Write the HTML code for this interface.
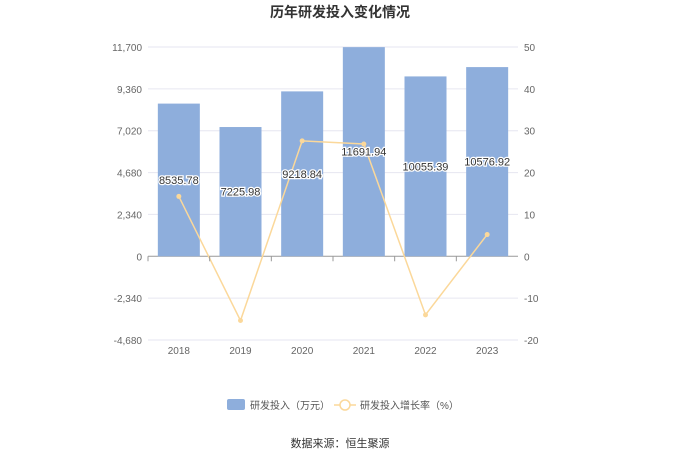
<!DOCTYPE html>
<html><head><meta charset="utf-8">
<style>
body{margin:0;background:#fff;font-family:"Liberation Sans","Noto Sans CJK SC",sans-serif;}
svg text{font-family:"Liberation Sans","Noto Sans CJK SC",sans-serif;}
</style></head>
<body>
<svg width="680" height="460">
<text x="340" y="17" text-anchor="middle" font-size="14" font-weight="bold" fill="#333">历年研发投入变化情况</text>
<g id="grid"></g><g id="bars"></g><g id="line"></g><g id="labels"></g><g id="axes"></g>
<g>
<rect x="227" y="399" width="18" height="11" rx="2" fill="#8eaedc"/>
<text x="250" y="409" font-size="10" fill="#555">研发投入（万元）</text>
<line x1="334" y1="405" x2="356" y2="405" stroke="#fbd89a" stroke-width="1.5"/>
<circle cx="345" cy="405" r="5" fill="#fff" stroke="#fbd89a" stroke-width="1.5"/>
<text x="360" y="409" font-size="10" fill="#555">研发投入增长率（%）</text>
</g>
<text x="340" y="447" text-anchor="middle" font-size="11" fill="#333">数据来源：恒生聚源</text>
</svg>
<script>
const categories=["2018","2019","2020","2021","2022","2023"];
const investment=[8535.78,7225.98,9218.84,11691.94,10055.39,10576.92];
const growth=[14.3,-15.35,27.58,26.83,-14.0,5.19];
const leftTicks=[-4680,-2340,0,2340,4680,7020,9360,11700];
const leftTickLabels=["-4,680","-2,340","0","2,340","4,680","7,020","9,360","11,700"];
const rightTicks=[-20,-10,0,10,20,30,40,50];
const NS="http://www.w3.org/2000/svg";
const X0=148,X1=518,Y0=47,Y1=340;
const yL=v=>Y1-(v+4680)/(11700+4680)*(Y1-Y0);
const yR=v=>Y1-(v+20)/70*(Y1-Y0);
const bw=(X1-X0)/categories.length;
const xC=i=>X0+bw*(i+0.5);
function mk(tag,attrs,parent,text){const e=document.createElementNS(NS,tag);for(const k in attrs)e.setAttribute(k,attrs[k]);if(text!==undefined)e.textContent=text;document.getElementById(parent).appendChild(e);return e;}
leftTicks.forEach((t,i)=>{
 const y=yL(t);
 const g=mk("line",{x1:X0,x2:X1,y1:y,y2:y,stroke:t===0?"#999":"#e6e6f0","stroke-width":1},"grid");
 
 
 const l=mk("text",{x:X0-6,y:y+4,"text-anchor":"end","font-size":10,fill:"#666"},"axes",leftTickLabels[i]);
 
 
});
rightTicks.forEach(t=>{
 const l=mk("text",{x:X1+6,y:yR(t)+4,"font-size":10,fill:"#666"},"axes",String(t));
 
 
});
categories.forEach((c,i)=>{
 const tk=mk("line",{x1:X0+bw*i,x2:X0+bw*i,y1:yL(0),y2:yL(0)+5,stroke:"#999"},"axes");
 
 
 const l=mk("text",{x:xC(i),y:354,"text-anchor":"middle","font-size":10,fill:"#666"},"axes",c);
 
 
 const top=yL(investment[i]);
 const b=mk("rect",{x:xC(i)-21,y:top,width:42,height:yL(0)-top,fill:"#8eaedc"},"bars");
 
 
 const v=mk("text",{x:xC(i),y:(top+yL(0))/2+4,"text-anchor":"middle","font-size":11,fill:"#333",stroke:"#fff","stroke-width":2.5,"paint-order":"stroke"},"labels",investment[i].toFixed(2));
 
 
});
const pts=growth.map((g,i)=>xC(i)+","+yR(g)).join(" ");
const pl=mk("polyline",{points:pts,fill:"none",stroke:"#fbd89a","stroke-width":1.5},"line");


growth.forEach((g,i)=>{
 const p=mk("circle",{cx:xC(i),cy:yR(g),r:2.5,fill:"#fbd89a"},"line");
 
 
});
</script>
</body></html>
